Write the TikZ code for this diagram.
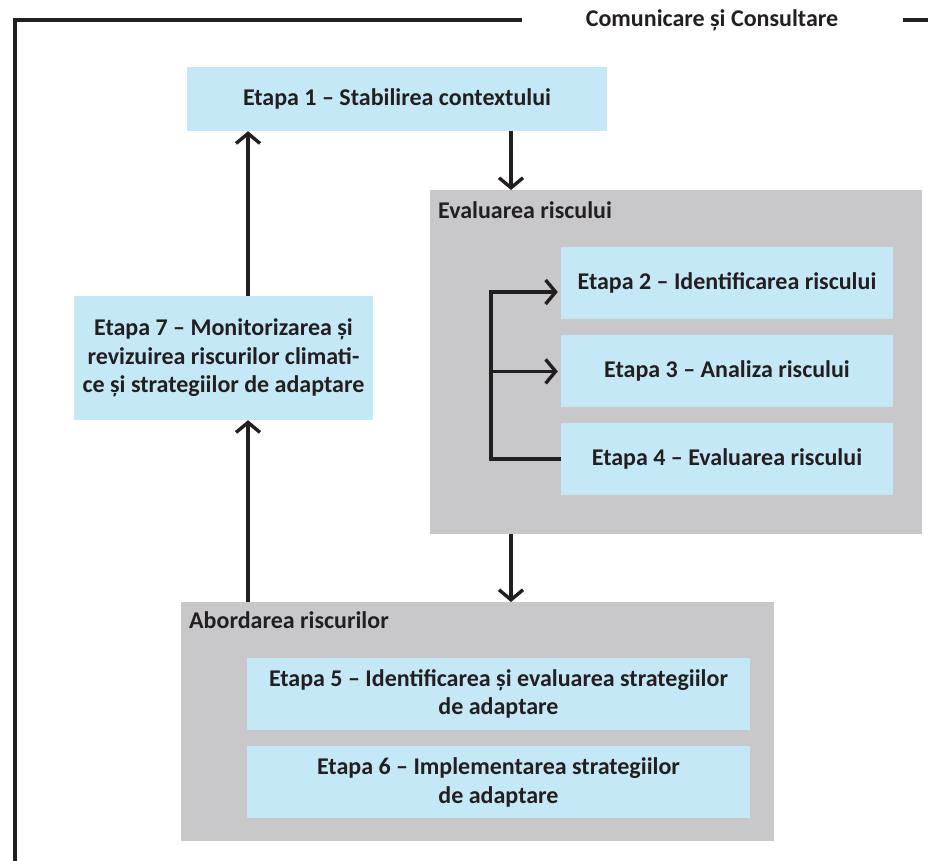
\documentclass[tikz,border=0pt]{standalone}
\usepackage{fontspec}
\setmainfont{Carlito}
\usetikzlibrary{arrows.meta,positioning}
\definecolor{etapablue}{RGB}{197,232,247}
\definecolor{groupgray}{RGB}{200,200,202}
\definecolor{linedark}{RGB}{35,31,32}

\begin{document}
\begin{tikzpicture}[
    x=1pt, y=-1pt,
    font=\bfseries\fontsize{24}{28.5}\selectfont, text=linedark,
    etapa/.style={rectangle, fill=etapablue, align=center, inner sep=0pt},
    group/.style={rectangle, fill=groupgray, anchor=north west, inner sep=0pt},
    grouplabel/.style={anchor=west, inner sep=0pt},
    arrow/.style={line width=3.4pt, draw=linedark, -{Straight Barb[length=10pt,width=24pt]}},
    frame/.style={line width=3.2pt, draw=linedark}
]
\useasboundingbox (0,0) rectangle (928,860);

% Outer frame
\node[inner sep=0pt] (komm) at (712,20) {Comunicare și Consultare};
\draw[frame] ([xshift=-64pt]komm.west) -| (15,862);
\draw[frame] ([xshift=65pt]komm.east) -- (930,20);

% Group boxes
\node[group, minimum width=492, minimum height=344] (evaluare) at (430,190) {};
\node[grouplabel] (evallabel) at ([xshift=8pt,yshift=-20pt]evaluare.north west) {Evaluarea riscului};
\node[group, minimum width=593, minimum height=239] (abordare) at (181,602) {};
\node[grouplabel] (abordlabel) at ([xshift=8pt,yshift=-18pt]abordare.north west) {Abordarea riscurilor};

% Stage boxes
\node[etapa, minimum width=420, minimum height=64] (etapa1) at (397,99) {Etapa 1 – Stabilirea contextului};
\node[etapa, minimum width=332, minimum height=72] (etapa2) at (727,283) {Etapa 2 – Identificarea riscului};
\node[etapa, minimum width=332, minimum height=72, below=16pt of etapa2] (etapa3) {Etapa 3 – Analiza riscului};
\node[etapa, minimum width=332, minimum height=72, below=15pt of etapa3] (etapa4) {Etapa 4 – Evaluarea riscului};
\node[etapa, minimum width=503, minimum height=72] (etapa5) at (498.5,694) {Etapa 5 – Identificarea și evaluarea strategiilor\\de adaptare};
\node[etapa, minimum width=503, minimum height=72, below=16pt of etapa5] (etapa6) {Etapa 6 – Implementarea strategiilor\\de adaptare};
\node[etapa, minimum width=299, minimum height=124] (etapa7) at (223.5,358) {Etapa 7 – Monitorizarea și\\revizuirea riscurilor climati-\\ce și strategiilor de adaptare};

% Arrows
\coordinate (stem) at (511,0);
\coordinate (leftstem) at (248,0);
\coordinate (fork) at (491,0);
\draw[arrow] (etapa1.south -| stem) -- (evaluare.north -| stem);
\draw[arrow] (evaluare.south -| stem) -- (abordare.north -| stem);
\draw[arrow] (abordare.north -| leftstem) -- (etapa7.south -| leftstem);
\draw[arrow] (etapa7.north -| leftstem) -- (etapa1.south -| leftstem);
\draw[arrow, shorten >=3pt] (etapa4.west) -- (etapa4.west -| fork) |- ([yshift=-9pt]etapa2.west);
\draw[arrow, shorten >=3pt] (etapa3.west -| fork) -- (etapa3.west);

\end{tikzpicture}
\end{document}
